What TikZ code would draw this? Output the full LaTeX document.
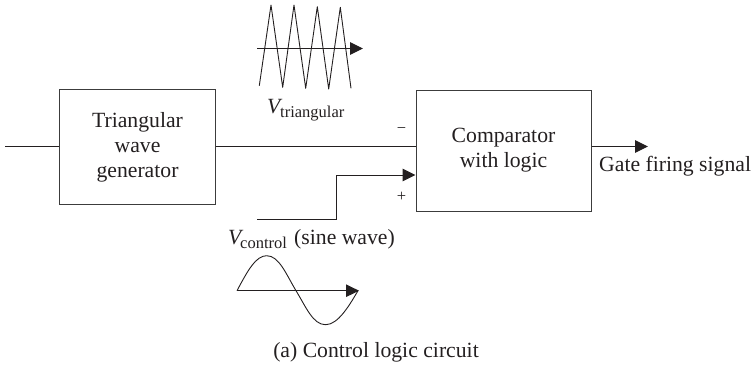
\documentclass[tikz,border=0pt]{standalone}
\usepackage{fontspec}
\setmainfont{Liberation Serif}
\usetikzlibrary{positioning,arrows.meta,calc}
\definecolor{blockGray}{RGB}{60,60,60}
\definecolor{textGray}{RGB}{35,31,32}

\begin{document}
\begin{tikzpicture}[x=1bp,y=-1bp,font=\fontsize{21.7bp}{25bp}\selectfont,text=textGray,
      block/.style={draw=blockGray,line width=1bp,inner sep=0pt,align=center},
      wire/.style={draw=textGray,line width=1bp},
      signal/.style={wire,-{Triangle[length=13bp,width=12.5bp]}},
      wave/.style={draw=textGray,line width=0.9bp,line join=round},
      subs/.style={font=\fontsize{16.5bp}{16.5bp}\selectfont}]
    \useasboundingbox (0,0) rectangle (753,366);
    % blocks
    \node[block,minimum width=155bp,minimum height=114.5bp] (gen) at (137.5,147) {Triangular\\wave\\generator};
    \node[block,minimum width=175bp,minimum height=121bp] (comp) at (503.5,150.5) {Comparator\\with logic\\[-20bp]\mbox{}};
    \coordinate (in) at (5,146.5);
    \coordinate (out) at (648,146.5);
    \coordinate (ctrl) at (257,219);
    \coordinate (bend) at (336,175);
    % connectors
    \draw[wire] (in) -- (in -| gen.west);
    \draw[wire] (gen.east |- out) -- (comp.west |- out);
    \draw[signal] (comp.east |- out) -- (out);
    \draw[signal] (ctrl) -| (bend) -- (bend -| comp.west);
    % triangular wave
    \coordinate (triL) at (257,48.5);
    \coordinate (triR) at (363,48.5);
    \draw[wave] (259.3,85.7) -- (271,5) -- (282.7,87.3) -- (294,5) -- (305.7,88.3) -- (317.3,6.7) -- (328.7,89) -- (340.3,7.3) -- (351,88.3);
    \draw[signal] (triL) -- (triR);
    % sine wave
    \coordinate (sinL) at (237,290.7);
    \coordinate (sinR) at (359,290.7);
    \draw[wave] (sinL) .. controls (248,270) and (256,255.7) .. (266.7,255.7)
      .. controls (279,255.7) and (286,274) .. (296,290.7)
      .. controls (306,307) and (313,324.7) .. (325.5,324.7)
      .. controls (338,324.7) and (349,306) .. (358,290.7);
    \draw[signal] (sinL) -- (sinR);
    % labels
    \node[anchor=base west,inner sep=0pt] (vtri) at (267,113) {\textit{V}};
    \node[anchor=base west,inner sep=0pt,subs] (vtrisub) at (280,117) {triangular};
    \node[anchor=base west,inner sep=0pt] (vctrl) at (228,244) {\textit{V}};
    \node[anchor=base west,inner sep=0pt,subs] (vctrlsub) at (240,248) {control};
    \node[anchor=base west,inner sep=0pt] (sine) at (294,244) {(sine wave)};
    \node[inner sep=0pt,subs] (minus) at (401.5,131) {−};
    \node[inner sep=0pt,subs] (plus) at (401.5,197) {+};
    \node[anchor=base west,inner sep=0pt] (gate) at (599,171.5) {Gate firing signal};
    \node[anchor=base,inner sep=0pt] (cap) at (376,357.5) {(a) Control logic circuit};
  \end{tikzpicture}
\end{document}
